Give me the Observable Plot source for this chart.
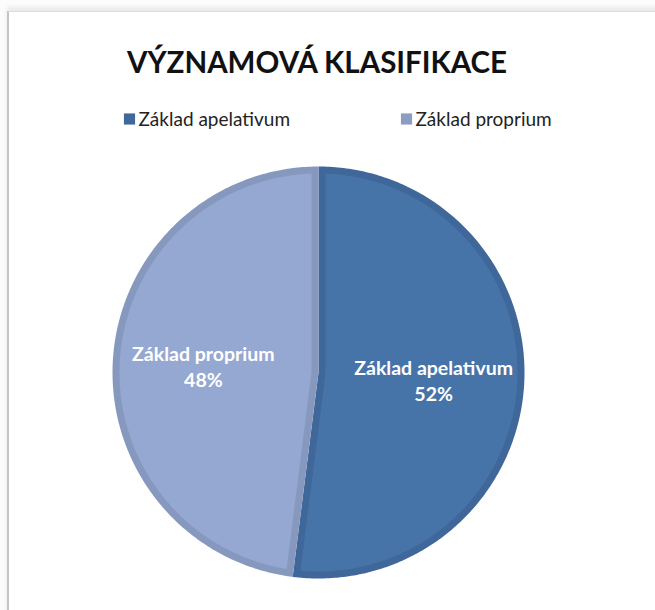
<!DOCTYPE html>
<html>
<head>
<meta charset="utf-8">
<script src="https://cdn.jsdelivr.net/npm/d3@7"></script>
<script src="https://cdn.jsdelivr.net/npm/@observablehq/plot@0.6"></script>
<style>
  html, body { margin: 0; padding: 0; background: #fcfcfc; }
  #page { position: relative; width: 655px; height: 610px; overflow: hidden; background: #fcfcfc; }
  #frame { position: absolute; left: 7px; top: 11px; width: 650px; height: 610px; background: #ffffff;
           border-left: 2px solid #c4c4c4; border-top: 1px solid #dcdcdc;
           box-shadow: 0 -4px 5px rgba(0,0,0,0.08); }
  #chart { position: absolute; left: 0; top: 0; }
</style>
</head>
<body>
<div id="page">
  <div id="frame"></div>
  <div id="chart"></div>
</div>
<script>
// ---- data ----
const title = "VÝZNAMOVÁ KLASIFIKACE";
const categories = ["Základ apelativum", "Základ proprium"];
const values = [52, 48];
const fillColors = ["#4674a8", "#95a8d2"];
const borderColors = ["#40679a", "#8698be"];
const legendColors = ["#41689b", "#8b9dc3"];

// ---- layout ----
const W = 655, H = 610;
const cx = 318, cy = 372, R = 206;
const inset = 7 / R;          // border width in unit radius
const labelRadius = 0.56;
const font = "Lato, 'Open Sans', sans-serif";

const data = categories.map((c, i) => ({category: c, value: values[i], i}));
const arcs = d3.pie().sort(null).value(d => d.value)(data);

function wedge(p, ins) {
  const a0 = p.startAngle, a1 = p.endAngle;
  const th = a1 - a0, mid = (a0 + a1) / 2;
  const rr = 1 - ins;
  const pts = [];
  const d = ins > 0 ? ins / Math.sin(th / 2) : 0;
  pts.push({x: d * Math.sin(mid), y: d * Math.cos(mid)});
  const delta = ins > 0 ? Math.asin(ins / rr) : 0;
  const n = 240;
  for (let k = 0; k <= n; ++k) {
    const a = a0 + delta + (th - 2 * delta) * k / n;
    pts.push({x: rr * Math.sin(a), y: rr * Math.cos(a)});
  }
  return pts;
}

const sliceMarks = arcs.flatMap(p => [
  Plot.line(wedge(p, 0), {x: "x", y: "y", curve: "linear-closed", fill: borderColors[p.data.i], stroke: null}),
  Plot.line(wedge(p, inset), {x: "x", y: "y", curve: "linear-closed", fill: fillColors[p.data.i], stroke: null})
]);

const labels = arcs.map(p => {
  const mid = (p.startAngle + p.endAngle) / 2;
  return {x: labelRadius * Math.sin(mid), y: labelRadius * Math.cos(mid),
          text: `${p.data.category}\n${p.data.value}%`};
});

const plot = Plot.plot({
  width: W, height: H, margin: 0,
  style: {background: "transparent", overflow: "visible"},
  x: {domain: [-1, 1], range: [cx - R, cx + R], axis: null},
  y: {domain: [-1, 1], range: [cy + R, cy - R], axis: null},
  marks: [
    ...sliceMarks,
    Plot.text(labels, {x: "x", y: "y", text: "text", fill: "white", fontWeight: "bold",
      fontSize: 19.5, lineHeight: 1.35, fontFamily: font}),
    Plot.text([title], {frameAnchor: "top-left", dx: 316.5, dy: 72, lineAnchor: "bottom",
      textAnchor: "middle", fontSize: 29.5, fontWeight: "bold", fill: "#111", fontFamily: font}),
    ...categories.map((c, i) => Plot.dot([c], {frameAnchor: "top-left", dx: 129 + i * 277, dy: 118.5,
      symbol: "square", r: 6.3, fill: legendColors[i], stroke: null})),
    ...categories.map((c, i) => Plot.text([c], {frameAnchor: "top-left", dx: 138 + i * 277, dy: 125,
      lineAnchor: "bottom", textAnchor: "start", fontSize: 19, fill: "#222", fontFamily: font}))
  ]
});
document.getElementById("chart").appendChild(plot);
</script>
</body>
</html>
